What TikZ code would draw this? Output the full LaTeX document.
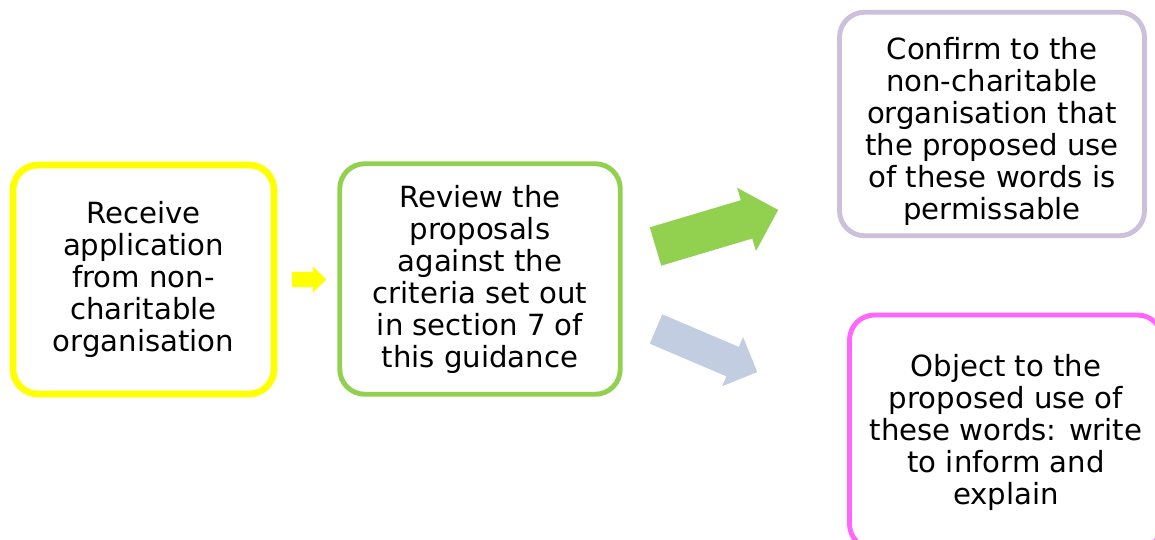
\documentclass[tikz,border=0pt]{standalone}
\usepackage{fontspec}
\setmainfont{DejaVu Sans}
\usetikzlibrary{shapes.arrows}

\definecolor{galben}{RGB}{255,255,0}
\definecolor{verde}{RGB}{146,208,80}
\definecolor{mov}{RGB}{204,192,218}
\definecolor{roz}{RGB}{255,102,255}
\definecolor{albastru}{RGB}{195,205,225}

\begin{document}
\begin{tikzpicture}[
  caseta/.style={draw, rounded corners=0.25cm, line width=1.4pt, align=center,
    inner sep=0pt, font=\fontsize{8.3}{9.1}\selectfont},
  sageata/.style={single arrow, draw=none, inner xsep=0pt, outer sep=0pt,
    anchor=tail, single arrow head extend=#1}
]
  % cadru
  \clip (0,0) rectangle (11.55,-5.40);
  \fill[white] (0,0) rectangle (11.55,-5.40);

  % casete
  \node[caseta, draw=galben, line width=1.9pt, minimum width=2.61cm, minimum height=2.29cm]
    (primire) at (1.435,-2.795) {Receive\\application\\from non-\\charitable\\organisation};
  \node[caseta, draw=verde, minimum width=2.805cm, minimum height=2.305cm]
    (analiza) at (4.80,-2.79) {Review the\\proposals\\against the\\criteria set out\\in section 7 of\\this guidance};
  \node[caseta, draw=mov, minimum width=3.05cm, minimum height=2.235cm]
    (confirma) at (9.92,-1.24) {\rule{0pt}{10.3pt}Confirm to the\\non-charitable\\organisation that\\the proposed use\\of these words is\\permissable};
  \node[caseta, draw=roz, minimum width=3.13cm, minimum height=2.34cm]
    (obiectie) at (10.06,-4.32) {Object to the\\proposed use of\\these words: write\\to inform and\\explain};

  % săgeți
  \node[sageata=0.055cm, fill=galben, inner ysep=0.07cm, minimum height=0.34cm]
    (s1) at (2.92,-2.795) {};
  \node[sageata=0.13cm, fill=verde, inner ysep=0.193cm, minimum height=1.28cm, rotate=16.6]
    (s2) at (6.555,-2.465) {};
  \node[sageata=0.1075cm, fill=albastru, inner ysep=0.1525cm, minimum height=1.10cm, rotate=-23.06]
    (s3) at (6.56,-3.29) {};
\end{tikzpicture}
\end{document}
